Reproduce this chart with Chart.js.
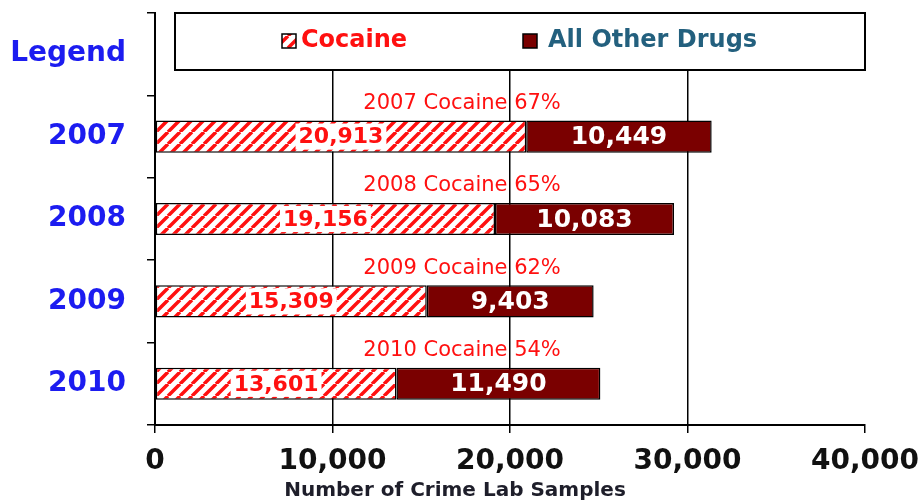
<!DOCTYPE html>
<html>
<head>
<meta charset="utf-8">
<script src="https://cdn.jsdelivr.net/npm/chart.js@4"></script>
<style>
  body { margin: 0; background: #fff; }
  canvas { display: block; }
</style>
</head>
<body>
<canvas id="drugChart" width="924" height="501"></canvas>
<script>
const years = ["2007", "2008", "2009", "2010"];
const cocaine = [20913, 19156, 15309, 13601];
const otherDrugs = [10449, 10083, 9403, 11490];
const cocainePct = [67, 65, 62, 54];
const xTickValues = [0, 10000, 20000, 30000, 40000];

const RED = "#ff1010";
const DARK_RED = "#7a0000";
const BLUE = "#1c1cf0";

function makeHatch() {
    const s = 12;
    const c = document.createElement("canvas");
    c.width = s;
    c.height = s;
    const g = c.getContext("2d");
    g.fillStyle = "#fff";
    g.fillRect(0, 0, s, s);
    g.strokeStyle = RED;
    g.lineWidth = 3.5;
    g.beginPath();
    for (let k = -1; k <= 1; k++) {
        g.moveTo(k * s, s);
        g.lineTo(k * s + s, 0);
    }
    g.stroke();
    return g.createPattern(c, "repeat");
}
const hatch = makeHatch();

const fmt = (v) => v.toLocaleString("en-US");

const labelPlugin = {
    id: "labelPlugin",
    afterDraw(chart) {
        const ctx = chart.ctx;
        const area = chart.chartArea;
        const xs = chart.scales.x;
        const coc = chart.getDatasetMeta(0);
        const oth = chart.getDatasetMeta(1);

        ctx.save();
        ctx.textAlign = "center";
        ctx.textBaseline = "middle";

        years.forEach((yr, i) => {
            const cb = coc.data[i + 1];
            const ob = oth.data[i + 1];
            const h = cb.height;

            // cocaine value with white patch
            ctx.font = "bold 22px 'DejaVu Sans'";
            const cx = (cb.base + cb.x) / 2;
            const t1 = fmt(cocaine[i]);
            const w1 = ctx.measureText(t1).width + 6;
            ctx.fillStyle = "#fff";
            ctx.fillRect(cx - w1 / 2, cb.y - h / 2 + 3, w1, h - 6);
            ctx.fillStyle = RED;
            ctx.fillText(t1, cx, cb.y + 1);

            // other drugs value
            ctx.font = "bold 25px 'DejaVu Sans'";
            ctx.fillStyle = "#fff";
            ctx.fillText(fmt(otherDrugs[i]), (ob.base + ob.x) / 2, ob.y + 1);

            // percentage above bar
            ctx.font = "21px 'DejaVu Sans'";
            ctx.fillStyle = RED;
            ctx.fillText(yr + " Cocaine " + cocainePct[i] + "%", xs.getPixelForValue(17300), cb.y - 33);
        });

        // axis title
        ctx.font = "bold 20px 'DejaVu Sans'";
        ctx.fillStyle = "#1e1e2a";
        ctx.fillText("Number of Crime Lab Samples", 455, 491);

        // legend box in the first row
        const lx = area.left + 20, ly = area.top, lw = area.right - lx, lh = 57;
        ctx.fillStyle = "#fff";
        ctx.fillRect(lx, ly, lw, lh);
        ctx.strokeStyle = "#000";
        ctx.lineWidth = 2;
        ctx.strokeRect(lx, ly, lw, lh);

        const my = ly + 28;
        ctx.lineWidth = 1.5;
        ctx.fillStyle = hatch;
        ctx.fillRect(282, my - 7, 14, 14);
        ctx.strokeRect(282, my - 7, 14, 14);
        ctx.fillStyle = DARK_RED;
        ctx.fillRect(523, my - 7, 14, 14);
        ctx.strokeRect(523, my - 7, 14, 14);

        ctx.textAlign = "left";
        ctx.font = "bold 24px 'DejaVu Sans'";
        ctx.fillStyle = RED;
        ctx.fillText("Cocaine", 301, my);
        ctx.fillStyle = "#23607e";
        ctx.fillText("All Other Drugs", 548, my);
        ctx.restore();
    },
};

new Chart(document.getElementById("drugChart"), {
    type: "bar",
    data: {
        labels: ["Legend"].concat(years),
        datasets: [
            {
                label: "Cocaine",
                data: [null].concat(cocaine),
                backgroundColor: hatch,
                borderColor: "#000",
                borderWidth: 1.5,
                borderSkipped: false,
            },
            {
                label: "All Other Drugs",
                data: [null].concat(otherDrugs),
                backgroundColor: DARK_RED,
                borderColor: "#000",
                borderWidth: 1.5,
                borderSkipped: false,
            },
        ],
    },
    options: {
        indexAxis: "y",
        responsive: false,
        animation: false,
        categoryPercentage: 1,
        barPercentage: 0.39,
        layout: { padding: { top: 13, right: 59, left: 0, bottom: 0 } },
        plugins: {
            legend: { display: false },
            tooltip: { enabled: false },
        },
        scales: {
            x: {
                stacked: true,
                min: 0,
                max: 40000,
                afterBuildTicks: (s) => {
                    s.ticks = xTickValues.map((v) => ({ value: v }));
                },
                afterFit: (s) => {
                    s.height = 76;
                    s.paddingLeft = 0;
                    s.paddingRight = 0;
                },
                ticks: {
                    callback: (v) => fmt(v),
                    color: "#111",
                    font: { family: "DejaVu Sans", size: 28, weight: "bold" },
                    padding: 12,
                    maxRotation: 0,
                },
                grid: {
                    color: (c) => (c.tick && c.tick.value === 40000 ? "rgba(0,0,0,0)" : "#000"),
                    tickColor: "#000",
                    lineWidth: 1.5,
                    tickLength: 8,
                },
                border: { color: "#000", width: 2 },
            },
            y: {
                stacked: true,
                afterFit: (s) => {
                    s.width = 155;
                    s.paddingTop = 0;
                    s.paddingBottom = 0;
                },
                ticks: {
                    color: BLUE,
                    font: { family: "DejaVu Sans", size: 28, weight: "bold" },
                    padding: 21,
                },
                grid: {
                    drawOnChartArea: false,
                    color: "#000",
                    lineWidth: 1.5,
                    tickLength: 8,
                    offset: true,
                },
                border: { color: "#000", width: 2 },
            },
        },
    },
    plugins: [labelPlugin],
});
</script>
</body>
</html>
